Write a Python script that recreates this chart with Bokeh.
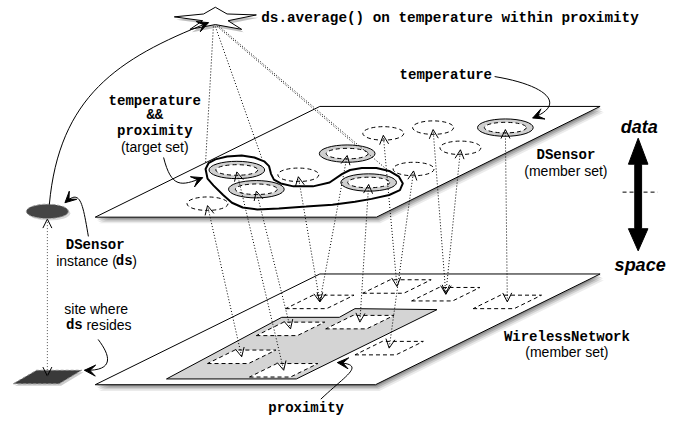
from bokeh.plotting import figure
from bokeh.models import Range1d, Arrow, OpenHead, VeeHead
from bokeh.embed import file_html
from bokeh.resources import INLINE
from bokeh.core.properties import value

# ---------------- diagram content (reference pixel coordinates, y downwards) -------------
upper_plane_x = [97, 327, 614, 385]
upper_plane_y = [225, 110, 110, 225]
lower_plane_x = [97, 327, 614, 384]
lower_plane_y = [399, 284, 284, 399]
proximity_x = [170, 288, 347, 363, 447, 303]
proximity_y = [393, 329, 329, 320, 321, 393]

# network sites (bottom-left corners of dashed parallelograms)
site_names = ["F", "A", "B", "C", "D", "J", "K", "L", "E"]
site_bx = [292, 371, 421, 484, 333, 262, 212, 255, 363]
site_by = [320, 304, 312, 320, 341, 348, 377, 391, 368]

# DSensor members on upper plane
member_names = ["E1", "E2", "E3", "E4", "E5", "E6", "E7", "E8", "E9", "E10", "E11"]
member_x = [242, 262, 305, 355, 377, 212, 392, 423, 443, 471, 517]
member_y = [176, 196, 181, 159, 189, 211, 138, 175, 132, 153, 132]
member_temp = [True, True, False, True, True, False, False, False, False, False, True]

links_from = ["E6", "E1", "E2", "E3", "E4", "E5", "E7", "E8", "E9", "E10", "E11"]
links_to = ["K", "L", "J", "F", "F", "D", "A", "E", "B", "B", "C"]

# target-set outline
blob_x = [210, 213, 220, 232, 247, 260, 270, 275, 277, 280, 287, 300, 320, 337, 350, 358,
          370, 385, 398, 408, 412, 409, 398, 380, 363, 340, 313, 285, 263, 248, 237, 228,
          218, 212]
blob_y = [175, 169, 165, 162, 161, 163, 167, 172, 180, 186, 190, 193, 193, 189, 180, 176,
          174, 174, 177, 183, 190, 197, 202, 206, 209, 212, 214, 216, 217, 215, 210, 202,
          192, 185]

star_x = [178, 208, 220, 232, 262, 233, 247, 220, 194, 207]
star_y = [17, 14, 7, 14, 15, 21, 30, 25, 30, 21]
star_lines_end_x = [210, 268, 366, 395]
star_lines_end_y = [168, 165, 152, 175]

big_arrow_x = [653, 663, 656.5, 656.5, 663, 653, 643, 649.5, 649.5, 643]
big_arrow_y = [143, 170, 170, 237, 237, 260, 237, 237, 170, 170]

# curved pointer arrows: start, control1, control2, end
curves = [
    (50, 212, 60, 100, 120, 60, 213, 23),
    (167, 163, 175, 195, 185, 193, 207, 184),
    (506, 79, 560, 88, 580, 108, 545, 122),
    (90, 245, 84, 210, 82, 195, 66, 210),
    (100, 352, 112, 368, 118, 385, 86, 384),
    (328, 414, 355, 388, 375, 378, 345, 376),
]

MONO = value("Liberation Mono")
SANS = value("Liberation Sans")

p = figure(width=666, height=416, x_range=Range1d(0, 682), y_range=Range1d(432, 0),
           output_backend="svg", toolbar_location=None, min_border=0,
           x_axis_type=None, y_axis_type=None)
p.grid.visible = False
p.outline_line_color = None
p.background_fill_color = "white"
p.border_fill_color = "white"

def shadow(xs, ys):
    for k, a in [(1, 0.18), (2, 0.16), (3, 0.12), (4, 0.08)]:
        p.patch([x + k for x in xs], [y + 1.6 * k for y in ys], fill_color="black",
                fill_alpha=a, line_color=None)

# lower plane
shadow(lower_plane_x, lower_plane_y)
p.patch(lower_plane_x, lower_plane_y, fill_color="white", line_color="black", line_width=1)
p.patch(proximity_x, proximity_y, fill_color="#d4d4d4", line_color="black", line_width=1)

W, H, S = 42, 14, 28
site_pos = {}
xs_s, ys_s = [], []
for n, bx, by in zip(site_names, site_bx, site_by):
    xs_s.append([bx, bx + W, bx + W + S, bx + S])
    ys_s.append([by, by, by - H, by - H])
    site_pos[n] = (bx + (W + S) / 2, by - H / 2)
p.patches(xs_s, ys_s, fill_color="white", line_color="black", line_dash="4 3", line_width=1)

# dark site where ds resides
p.patch([15, 62, 85, 39], [400, 400, 386, 386], fill_color="black", fill_alpha=0.2,
        line_color=None)
p.patch([13, 60, 83, 37], [398, 398, 384, 384], fill_color="#3a3a3a", line_color="#888888",
        line_dash="3 2")

# upper plane
shadow(upper_plane_x, upper_plane_y)
p.patch(upper_plane_x, upper_plane_y, fill_color="white", line_color="black", line_width=1)

mem_pos = {n: (x, y) for n, x, y in zip(member_names, member_x, member_y)}
rx = [x for x, t in zip(member_x, member_temp) if t]
ry = [y for y, t in zip(member_y, member_temp) if t]
dx = [x for x, t in zip(member_x, member_temp) if not t]
dy = [y for y, t in zip(member_y, member_temp) if not t]
p.ellipse(rx, ry, width=57, height=18, fill_color="#cfcfcf", line_color="black", line_width=1)
p.ellipse(rx, ry, width=43, height=11, fill_color="white", line_color="black",
          line_dash="4 3", line_width=1)
p.ellipse(dx, dy, width=42, height=14, fill_color="white", line_color="black",
          line_dash="4 3", line_width=1)

# target set outline
p.patch(blob_x, blob_y, fill_color=None, line_color="black", line_width=2)

# DSensor instance ellipse
p.ellipse([50], [221], width=43, height=15, fill_color="black", fill_alpha=0.15, line_color=None)
p.ellipse([48], [219], width=43, height=15, fill_color="#444444", line_color="#999999",
          line_dash="3 2")

# dotted member <-> site links
for a, b in zip(links_from, links_to):
    (x0, y0), (x1, y1) = mem_pos[a], site_pos[b]
    p.add_layout(Arrow(x_start=x0, y_start=y0 + 2, x_end=x1, y_end=y1, line_dash="1 2",
                       line_width=1, start=OpenHead(size=9, line_width=1),
                       end=OpenHead(size=9, line_width=1)))
p.add_layout(Arrow(x_start=48, y_start=227, x_end=48, y_end=390, line_dash="1 2",
                   line_color="#555555", start=OpenHead(size=9, line_width=1),
                   end=OpenHead(size=9, line_width=1)))

# star and its dotted lines
for i, (ex, ey) in enumerate(zip(star_lines_end_x, star_lines_end_y)):
    p.line([218 + 2 * i, ex], [27, ey], line_dash="1 2", line_color="black", line_width=1)
p.patch([x + 2 for x in star_x], [y + 3 for y in star_y], fill_color="black", fill_alpha=0.25,
        line_color=None)
p.patch(star_x, star_y, fill_color="white", line_color="black", line_width=1)

# curved pointers
for (x0, y0, c0x, c0y, c1x, c1y, x1, y1) in curves:
    p.bezier(x0=[x0], y0=[y0], cx0=[c0x], cy0=[c0y], cx1=[c1x], cy1=[c1y], x1=[x1], y1=[y1],
             line_color="black", line_width=1)
    p.add_layout(Arrow(x_start=c1x, y_start=c1y, x_end=x1, y_end=y1, line_alpha=0,
                       end=VeeHead(size=11, fill_color="black", line_color="black")))

# data / space arrow
p.patch(big_arrow_x, big_arrow_y, fill_color="black", line_color="black")
p.line([637, 673], [199, 199], line_dash="4 3", line_color="black", line_width=1)

def txt(xs, ys, texts, font, size="14px", style="normal", align="center"):
    p.text(xs, ys, text=texts, text_font=font, text_font_size=size, text_font_style=style,
           text_align=align, text_baseline="middle", text_color="black")

txt([267], [18], ["ds.average() on temperature within proximity"], MONO, size="14.3px",
    style="bold", align="left")
txt([456], [77], ["temperature"], MONO, style="bold")
txt([158, 158, 158], [104, 119, 136], ["temperature", "&&", "proximity"], MONO, style="bold")
txt([158], [152], ["(target set)"], SANS)
txt([579], [160], ["DSensor"], MONO, style="bold")
txt([579], [177], ["(member set)"], SANS)
txt([580], [349], ["WirelessNetwork"], MONO, style="bold")
txt([580], [365], ["(member set)"], SANS)
txt([654, 655], [131, 275], ["data", "space"], SANS, size="18px", style="bold italic")
txt([97], [254], ["DSensor"], MONO, style="bold")
txt([57], [271], ["instance ("], SANS, align="left")
txt([118], [271], ["ds"], MONO, style="bold", align="left")
txt([135], [271], [")"], SANS, align="left")
txt([98], [320], ["site where"], SANS)
txt([67], [337], ["ds"], MONO, style="bold", align="left")
txt([88], [337], ["resides"], SANS, align="left")
txt([313], [423], ["proximity"], MONO, style="bold")

open("out.html", "w").write(file_html(p, INLINE))
